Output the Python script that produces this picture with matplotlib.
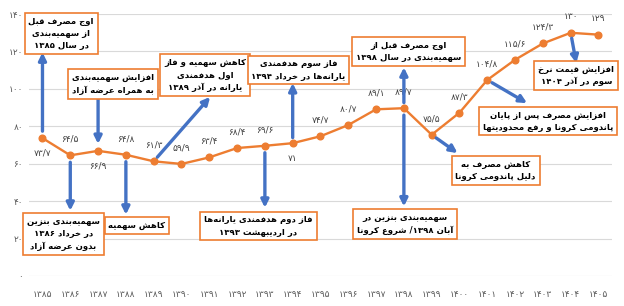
import matplotlib
matplotlib.use('Agg')
import matplotlib.pyplot as plt

# gasoline consumption (million litres per day) by Persian year
years = [1385, 1386, 1387, 1388, 1389, 1390, 1391, 1392, 1393, 1394, 1395,
         1396, 1397, 1398, 1399, 1400, 1401, 1402, 1403, 1404, 1405]
consumption = [73.7, 64.5, 66.9, 64.8, 61.3, 59.9, 63.4, 68.4, 69.6, 71, 74.7,
               80.7, 89.1, 89.7, 75.5, 87.3, 104.8, 115.6, 124.3, 130, 129]
labels_below = [1385, 1387, 1394]
y_ticks = [0, 20, 40, 60, 80, 100, 120, 140]

ORANGE = '#ED7D31'
BLUE = '#4472C4'
GRAY = '#595959'

# --- minimal Persian shaping (no arabic_reshaper available) ---
FORMS = {
    'آ': (0xFE81, 2), 'ا': (0xFE8D, 2), 'ب': (0xFE8F, 4), 'پ': (0xFB56, 4),
    'ت': (0xFE95, 4), 'ث': (0xFE99, 4), 'ج': (0xFE9D, 4), 'چ': (0xFB7A, 4),
    'ح': (0xFEA1, 4), 'خ': (0xFEA5, 4), 'د': (0xFEA9, 2), 'ذ': (0xFEAB, 2),
    'ر': (0xFEAD, 2), 'ز': (0xFEAF, 2), 'ژ': (0xFB8A, 2), 'س': (0xFEB1, 4),
    'ش': (0xFEB5, 4), 'ص': (0xFEB9, 4), 'ض': (0xFEBD, 4), 'ط': (0xFEC1, 4),
    'ظ': (0xFEC5, 4), 'ع': (0xFEC9, 4), 'غ': (0xFECD, 4), 'ف': (0xFED1, 4),
    'ق': (0xFED5, 4), 'ک': (0xFB8E, 4), 'ك': (0xFED9, 4), 'گ': (0xFB92, 4),
    'ل': (0xFEDD, 4), 'م': (0xFEE1, 4), 'ن': (0xFEE5, 4), 'و': (0xFEED, 2),
    'ه': (0xFEE9, 4), 'ی': (0xFBFC, 4), 'ي': (0xFEF1, 4),
}
DIGITS = '0123456789۰۱۲۳۴۵۶۷۸۹'


def shape_line(s):
    out = []
    for i, ch in enumerate(s):
        if ch not in FORMS:
            if ch != '\u200c':
                out.append(ch)
            continue
        base, n = FORMS[ch]
        prev = s[i - 1] if i > 0 else ''
        nxt = s[i + 1] if i + 1 < len(s) else ''
        join_prev = prev in FORMS and FORMS[prev][1] == 4
        join_next = n == 4 and nxt in FORMS
        if join_prev and join_next:
            off = 3
        elif join_prev:
            off = 1
        elif join_next:
            off = 2
        else:
            off = 0
        out.append(chr(base + off))
    # visual order: right-to-left, but digit runs stay left-to-right
    runs = []
    for ch in out:
        is_d = ch in DIGITS
        if runs and runs[-1][0] == is_d:
            runs[-1][1].append(ch)
        else:
            runs.append((is_d, [ch]))
    vis = ''
    for is_d, chars in reversed(runs):
        vis += ''.join(chars) if is_d else ''.join(reversed(chars))
    return vis


def fa(s):
    return '\n'.join(shape_line(line) for line in s.split('\n'))


def fa_num(v):
    txt = ('%g' % v).replace('.', '/')
    return txt.translate(str.maketrans('0123456789', '۰۱۲۳۴۵۶۷۸۹'))


ZW = '\u200c'
# (text, box centre, arrow tail, arrow head, shrinkA, shrinkB)
notes = [
    ('اوج مصرف قبل\nاز سهمیه' + ZW + 'بندی\nدر سال ۱۳۸۵', (0.67, 129.6), 0, (0, 119.5), 5, 0),
    ('افزایش سهمیه' + ZW + 'بندی\nبه همراه عرضه آزاد', (2.54, 102.6), (2, 94.6), 2, 0, 5),
    ('کاهش سهمیه و فاز\nاول هدفمندی\nیارانه در آذر ۱۳۸۹', (5.85, 107.4), 4, (6.03, 95.7), 4, 0),
    ('فاز سوم هدفمندی\nیارانه' + ZW + 'ها در خرداد ۱۳۹۴', (9.21, 110.1), 9, (9, 103.1), 4, 0),
    ('اوج مصرف قبل از\nسهمیه' + ZW + 'بندی در سال ۱۳۹۸', (13.17, 120.0), 13, (13, 111.5), 4, 0),
    ('افزایش قیمت نرخ\nسوم در آذر ۱۴۰۴', (19.2, 107.1), 19, (19.2, 113.8), 4, 0),
    ('افزایش مصرف پس از پایان\nپاندومی کرونا و رفع محدودیتها', (18.2, 82.8), 16, (17.43, 92.4), 4, 0),
    ('کاهش مصرف به\nدلیل پاندومی کرونا', (16.3, 56.6), 14, (14.93, 65.7), 4, 0),
    ('سهمیه' + ZW + 'بندی بنزین در\nآبان ۱۳۹۸/ شروع کرونا', (13.04, 27.8), 13, (13, 37.2), 5, 0),
    ('فاز دوم هدفمندی یارانه' + ZW + 'ها\nدر اردیبهشت ۱۳۹۳', (7.77, 26.7), 8, (8, 36.5), 5, 0),
    ('کاهش سهمیه', (3.4, 27.0), 3, (3, 32.8), 5, 0),
    ('سهمیه' + ZW + 'بندی بنزین\nدر خرداد ۱۳۸۶\nبدون عرضه آزاد', (0.75, 22.4), 1, (1, 34.9), 5, 0),
]

fig = plt.figure(figsize=(6.24, 3.06), dpi=100)
ax = fig.add_axes([0.0458, 0.098, 0.9356, 0.856])

x = list(range(len(years)))
ax.plot(x, consumption, color=ORANGE, lw=1.7, marker='o', markersize=4.8, zorder=3)

for i, (yr, v) in enumerate(zip(years, consumption)):
    dy = -11 if yr in labels_below else 11.5
    ax.annotate(fa_num(v), (i, v), xytext=(0, dy), textcoords='offset points',
                ha='center', va='center', fontsize=6.5, color='#404040', zorder=4)


def pt(p):
    if isinstance(p, int):
        return (p, consumption[p])
    return p


for text, box, tail, head, sa, sb in notes:
    ax.annotate('', xy=pt(head), xytext=pt(tail),
                arrowprops=dict(arrowstyle='-|>', color=BLUE, lw=2.4,
                                mutation_scale=11, shrinkA=sa, shrinkB=sb),
                zorder=5, annotation_clip=False)
    ax.text(box[0], box[1], fa(text), ha='center', va='center', multialignment='center',
            fontsize=6.1, fontweight='bold', color='black', linespacing=1.45, zorder=6,
            bbox=dict(boxstyle='square,pad=0.45', fc='white', ec=ORANGE, lw=1.2),
            clip_on=False)

ax.set_xlim(-0.5, len(years) - 0.5)
ax.set_ylim(0, 140)
ax.set_xticks(x)
ax.set_xticklabels([fa_num(y) for y in years])
ax.set_yticks(y_ticks)
ax.set_yticklabels([fa_num(t) for t in y_ticks])
ax.tick_params(length=0, labelsize=6.5, labelcolor=GRAY)
ax.tick_params(axis='x', pad=10)
ax.tick_params(axis='y', pad=4)
ax.grid(axis='y', color='#D9D9D9', lw=0.8)
ax.set_axisbelow(True)
for s in ax.spines.values():
    s.set_visible(False)

fig.savefig('out.png', dpi=100)
